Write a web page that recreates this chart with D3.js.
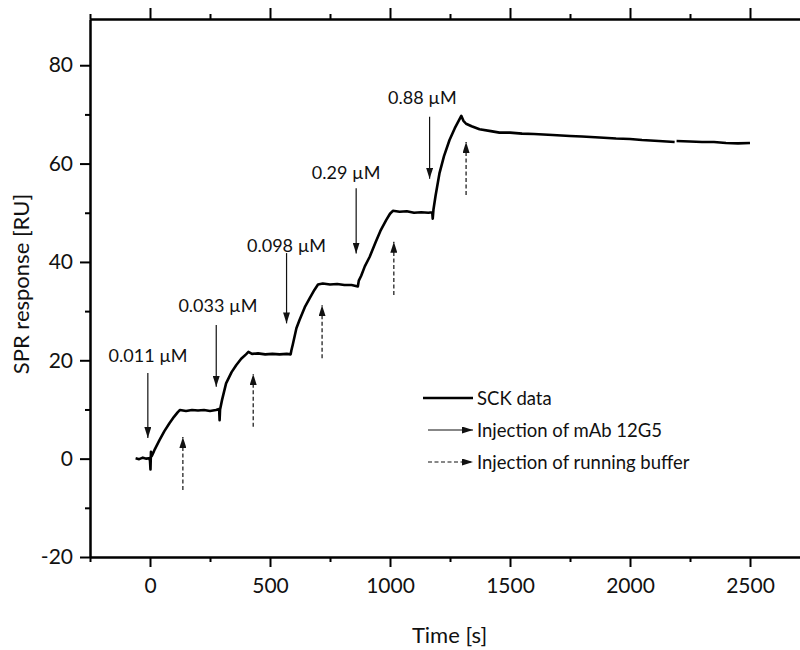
<!DOCTYPE html>
<html lang="en">
<head>
  <meta charset="UTF-8">
  <title>SCK sensorgram</title>
  <script src="https://cdn.jsdelivr.net/npm/d3@7"></script>
  <style>
    body { margin: 0; background: #fff; }
    svg text { font-family: Lato, "Open Sans", sans-serif; fill: #111; }
    .axis path, .axis line { stroke: #000; stroke-width: 2px; }
    .axis text { font-size: 21px; }
    .trace { fill: none; stroke: #000; stroke-width: 2.6px; stroke-linejoin: round; }
    .arrow { stroke: #111; stroke-width: 1.2px; }
    .dashed { stroke-dasharray: 4, 2.5; }
  </style>
</head>
<body>
<div id="chart"></div>
<script>
  // sensorgram: time [s] and response [RU]
  var times = [-60, -45, -30, -15, -4, 0, 2, 4, 7, 12, 20, 40, 60, 81, 100, 115, 125, 150, 175, 200, 225, 250, 275, 288, 290, 292,
    300, 317, 340, 359, 380, 400, 410, 425, 450, 480, 510, 540, 570, 586, 589,
    595, 610, 623, 645, 665, 685, 700, 720, 750, 780, 810, 840, 866, 870,
    880, 895, 915, 940, 960, 984, 1000, 1012, 1040, 1070, 1100, 1130, 1160, 1176, 1178, 1181,
    1190, 1206, 1225, 1248, 1270, 1297, 1306, 1317, 1340, 1373, 1420, 1456, 1500, 1550, 1600, 1678,
    1750, 1800, 1873, 1942, 2000, 2050, 2120, 2186, 2190, 2194, 2250, 2300, 2350, 2400, 2450, 2500];
  var response = [0.1, -0.1, 0.2, 0.0, 0.1, -0.4, -2.2, 1.4, 0.5, 1.0, 1.9, 3.8, 5.6, 7.2, 8.5, 9.4, 9.9, 9.7, 9.9, 9.8, 9.9, 9.7, 9.9, 10.1, 7.8, 10.0,
    11.9, 15.3, 17.6, 19.0, 20.3, 21.2, 21.7, 21.3, 21.4, 21.2, 21.3, 21.2, 21.3, 21.2, 22.0,
    23.2, 26.5, 28.2, 30.8, 32.6, 34.3, 35.4, 35.6, 35.4, 35.5, 35.3, 35.3, 35.0, 36.2,
    37.2, 39.1, 41.0, 44.0, 46.3, 48.5, 49.8, 50.4, 50.2, 50.3, 50.0, 50.1, 50.0, 50.1, 48.8, 50.6,
    53.5, 58.0, 61.5, 64.8, 67.2, 69.7, 68.7, 68.1, 67.6, 67.0, 66.6, 66.3, 66.3, 66.1, 66.0, 65.8,
    65.6, 65.5, 65.3, 65.1, 65.0, 64.8, 64.6, 64.4, null, 64.6, 64.5, 64.4, 64.4, 64.2, 64.1, 64.2];

  // mAb 12G5 injections (solid arrows, pointing down)
  var concLabels = ["0.011 µM", "0.033 µM", "0.098 µM", "0.29 µM", "0.88 µM"];
  var injectTimes = [-9, 276, 569, 859, 1165];
  var injectFrom = [17.4, 27.2, 41.8, 55.0, 69.5];
  var injectTo = [4.2, 14.6, 27.5, 41.7, 56.9];
  var labelTimes = [-8, 283, 569, 817, 1135];
  var labelValues = [21.1, 31.2, 43.4, 58.3, 73.6];

  // running buffer injections (dashed arrows, pointing up)
  var bufferTimes = [137, 430, 717, 1016, 1317];
  var bufferFrom = [-6.4, 6.5, 20.4, 33.3, 53.6];
  var bufferTo = [4.4, 17.2, 31.2, 44.1, 64.4];

  var xTicks = [0, 500, 1000, 1500, 2000, 2500];
  var xMinor = [-250, 250, 750, 1250, 1750, 2250, 2750];
  var yTicks = [-20, 0, 20, 40, 60, 80];
  var yMinor = [-10, 10, 30, 50, 70];

  var legendLabels = ["SCK data", "Injection of mAb 12G5", "Injection of running buffer"];

  var margin = {top: 19, left: 90},
      width = 720, height = 538;

  var x = d3.scaleLinear().domain([-250, 2750]).range([0, width]);
  var y = d3.scaleLinear().domain([-20, 89.4]).range([height, 0]);
  var plain = function(d) { return String(d); };

  var svg = d3.select("#chart").append("svg")
      .attr("width", 800)
      .attr("height", 650);

  // arrow head
  svg.append("defs").append("marker")
      .attr("id", "head")
      .attr("viewBox", "0 0 11 7")
      .attr("refX", 11).attr("refY", 3.5)
      .attr("markerWidth", 11).attr("markerHeight", 7)
      .attr("markerUnits", "userSpaceOnUse")
      .attr("orient", "auto")
    .append("path")
      .attr("d", "M0,0L11,3.5L0,7Z")
      .attr("fill", "#111");

  var g = svg.append("g")
      .attr("transform", "translate(" + margin.left + "," + margin.top + ")");

  // axes: majors with labels, minors without
  g.append("g").attr("class", "axis")
      .attr("transform", "translate(0," + height + ")")
      .call(d3.axisBottom(x).tickValues(xTicks).tickFormat(plain).tickSize(10).tickSizeOuter(0).tickPadding(11));
  g.append("g").attr("class", "axis")
      .attr("transform", "translate(0," + height + ")")
      .call(d3.axisBottom(x).tickValues(xMinor).tickSize(5).tickSizeOuter(0).tickFormat(""));
  g.append("g").attr("class", "axis")
      .call(d3.axisTop(x).tickValues(xTicks).tickSize(11).tickSizeOuter(0).tickFormat(""));
  g.append("g").attr("class", "axis")
      .call(d3.axisTop(x).tickValues(xMinor).tickSize(5).tickSizeOuter(0).tickFormat(""));
  g.append("g").attr("class", "axis")
      .call(d3.axisLeft(y).tickValues(yTicks).tickFormat(plain).tickSize(10).tickSizeOuter(0).tickPadding(7));
  g.append("g").attr("class", "axis")
      .call(d3.axisLeft(y).tickValues(yMinor).tickSize(5).tickSizeOuter(0).tickFormat(""));
  g.append("line")
      .attr("x1", width).attr("x2", width)
      .attr("y1", 0).attr("y2", height)
      .attr("stroke", "#000").attr("stroke-width", 2);

  // axis titles
  g.append("text")
      .attr("x", width / 2 - 0.5)
      .attr("y", height + 86)
      .attr("text-anchor", "middle")
      .style("font-size", "22px")
      .text("Time [s]");
  g.append("text")
      .attr("transform", "translate(" + (-70) + "," + (height / 2 - 4) + ") rotate(-90)")
      .attr("text-anchor", "middle")
      .attr("dominant-baseline", "central")
      .style("font-size", "22px")
      .text("SPR response [RU]");

  // sensorgram trace
  var points = times.map(function(t, i) { return [t, response[i]]; });
  var line = d3.line()
      .defined(function(d) { return d[1] !== null; })
      .x(function(d) { return x(d[0]); })
      .y(function(d) { return y(d[1]); });
  g.append("path")
      .datum(points)
      .attr("class", "trace")
      .attr("d", line);

  // mAb injection arrows and labels
  injectTimes.forEach(function(t, i) {
    g.append("line")
        .attr("class", "arrow")
        .attr("x1", x(t)).attr("x2", x(t))
        .attr("y1", y(injectFrom[i])).attr("y2", y(injectTo[i]))
        .attr("marker-end", "url(#head)");
    g.append("text")
        .attr("x", x(labelTimes[i]))
        .attr("y", y(labelValues[i]))
        .attr("text-anchor", "middle")
        .attr("dominant-baseline", "central")
        .style("font-size", "18px")
        .text(concLabels[i]);
  });

  // buffer injection arrows
  bufferTimes.forEach(function(t, i) {
    g.append("line")
        .attr("class", "arrow dashed")
        .attr("x1", x(t)).attr("x2", x(t))
        .attr("y1", y(bufferFrom[i])).attr("y2", y(bufferTo[i]))
        .attr("marker-end", "url(#head)");
  });

  // legend
  var legend = svg.append("g").attr("transform", "translate(423,398)");
  legendLabels.forEach(function(label, i) {
    var row = legend.append("g").attr("transform", "translate(0," + (i * 32) + ")");
    if (i === 0) {
      row.append("line")
          .attr("class", "trace")
          .attr("x1", 0).attr("x2", 50);
    } else {
      row.append("line")
          .attr("class", i === 1 ? "arrow" : "arrow dashed")
          .attr("x1", 5).attr("x2", 50)
          .attr("marker-end", "url(#head)");
    }
    row.append("text")
        .attr("x", 54)
        .attr("dominant-baseline", "central")
        .style("font-size", "18.5px")
        .text(label);
  });
</script>
</body>
</html>
